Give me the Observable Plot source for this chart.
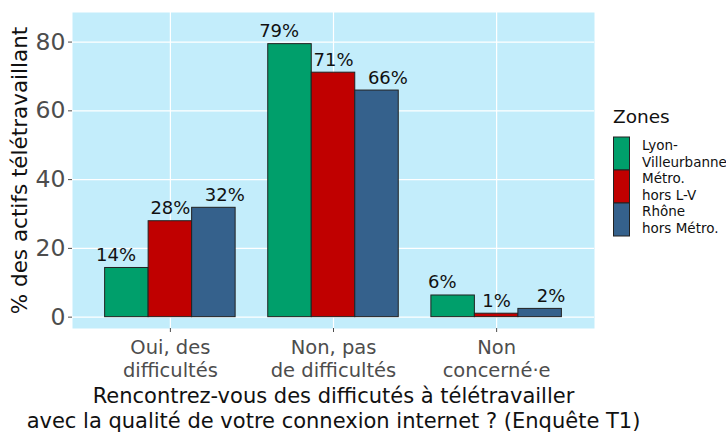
<!DOCTYPE html>
<html><head><meta charset="utf-8">
<script src="https://cdn.jsdelivr.net/npm/d3@7"></script>
<script src="https://cdn.jsdelivr.net/npm/@observablehq/plot@0.6"></script>
<style>body{margin:0;background:#fff;font-family:"DejaVu Sans",sans-serif}</style>
</head><body><div id="chart"></div>
<script>
const categories = ["Oui, des\ndifficultés", "Non, pas\nde difficultés", "Non\nconcerné·e"];
const zones = ["Lyon-\nVilleurbanne", "Métro.\nhors L-V", "Rhône\nhors Métro."];
const colors = ["#009f6b", "#c00000", "#35618c"];
const lyonVilleurbanne = [14.3, 79.4, 6.3];
const metroHorsLV = [27.9, 71.1, 1.0];
const rhoneHorsMetro = [31.8, 65.9, 2.4];
const yTicks = [0, 20, 40, 60, 80];
const legendTitle = "Zones";
const xTitle = "Rencontrez-vous des difficutés à télétravailler\navec la qualité de votre connexion internet ? (Enquête T1)";
const yTitle = "% des actifs télétravaillant";

const series = [lyonVilleurbanne, metroHorsLV, rhoneHorsMetro];
const data = [];
categories.forEach((c, i) => series.forEach((s, j) => data.push({cat: i + 1, zone: j, value: s[i]})));
const barW = 0.8 / 3;
const FONT = "'DejaVu Sans', sans-serif";

const chart = Plot.plot({
  width: 726, height: 435,
  marginTop: 12, marginBottom: 107, marginLeft: 72, marginRight: 132,
  style: {fontFamily: FONT, background: "white"},
  x: {domain: [0.4, 3.6], axis: null},
  y: {domain: [-3.3, 88.6], axis: null},
  color: {type: "ordinal", domain: [0, 1, 2], range: colors},
  marks: [
    Plot.frame({fill: "#c3edfb", stroke: null}),
    Plot.gridY(yTicks, {stroke: "white", strokeOpacity: 1, strokeWidth: 1.2}),
    Plot.gridX([1, 2, 3], {stroke: "white", strokeOpacity: 1, strokeWidth: 1.2}),
    Plot.rect(data, {
      x1: d => d.cat + (d.zone - 1.5) * barW,
      x2: d => d.cat + (d.zone - 0.5) * barW,
      y1: 0, y2: "value",
      fill: "zone", stroke: "#222", strokeWidth: 1
    }),
    Plot.text(data, {
      x: d => d.cat + (d.zone - 1) / 3,
      y: "value",
      text: d => Math.round(d.value) + "%",
      lineAnchor: "bottom", dy: -7, fontSize: 18, fill: "#111"
    }),
    Plot.axisY(yTicks, {fontSize: 23.5, tickSize: 4, tickPadding: 3, color: "#4d4d4d", label: null}),
    Plot.axisX([1, 2, 3], {tickFormat: i => categories[i - 1], fontSize: 19.5, lineHeight: 1.18, tickSize: 4, tickPadding: 5, color: "#4d4d4d", label: null}),
    Plot.text([xTitle], {frameAnchor: "bottom", lineAnchor: "top", dy: 57, fontSize: 21, lineHeight: 1.19, fill: "#111"}),
    Plot.text([yTitle], {frameAnchor: "left", textAnchor: "middle", rotate: -90, dx: -52, fontSize: 21.5, fill: "#111"})
  ]
});

// Legend
const svg = d3.select(chart);
const lg = svg.append("g").attr("font-family", FONT).attr("text-anchor", "start");
lg.append("text").attr("x", 613).attr("y", 123).attr("font-size", 18.5).attr("fill", "#111").text(legendTitle);
zones.forEach((z, i) => {
  const y0 = 137 + i * 33;
  lg.append("rect").attr("x", 613.5).attr("y", y0).attr("width", 16).attr("height", 33)
    .attr("fill", colors[i]).attr("stroke", "#222").attr("stroke-width", 1);
  const lines = z.split("\n");
  lines.forEach((l, k) => {
    lg.append("text").attr("x", 642).attr("y", y0 + 13 + k * 16.5).attr("font-size", 13.5).attr("fill", "#111").text(l);
  });
});
document.getElementById("chart").appendChild(chart);
</script>
</body></html>
